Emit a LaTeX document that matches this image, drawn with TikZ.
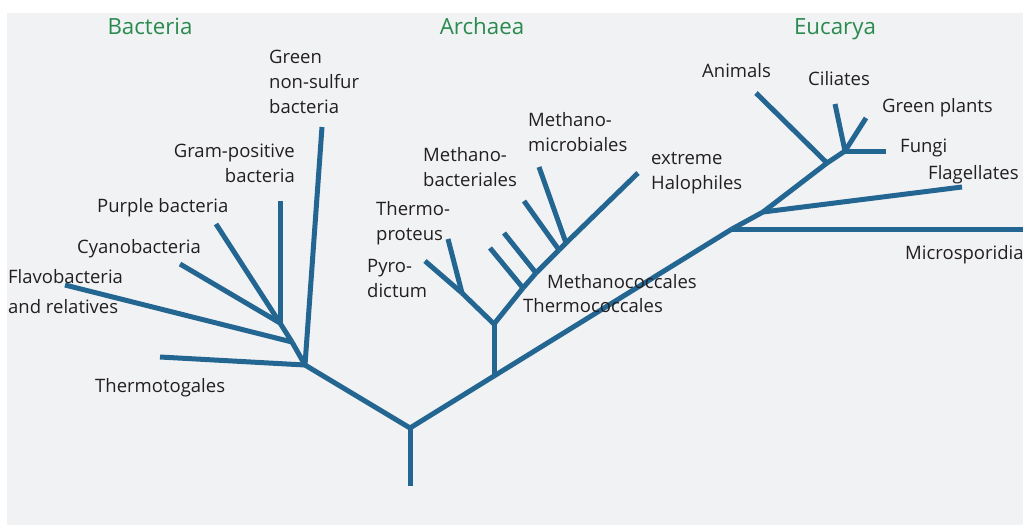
\documentclass[tikz,border=0pt]{standalone}
\usepackage{fontspec}
\setmainfont{Open Sans}
\definecolor{bgc}{RGB}{241,242,244}
\definecolor{br}{RGB}{36,102,146}
\definecolor{ttl}{RGB}{42,138,79}
\definecolor{txt}{RGB}{35,31,32}
\begin{document}
\begin{tikzpicture}[x=1pt,y=-1pt,
  br/.style={draw=br,line width=5pt},
  lbl/.style={text=txt,inner sep=0pt,font=\fontsize{18.5}{24.7}\selectfont,align=left},
  ttlb/.style={text=ttl,inner sep=0pt,font=\fontsize{22.3}{26}\selectfont}]
\useasboundingbox (0,0) rectangle (1023,525);
\fill[bgc] (7,13) rectangle (1023,525);
% junctions
\coordinate (r0) at (410,486);
\coordinate (r) at (410,428);
\coordinate (b) at (305,365);
\coordinate (b2) at (292,342);
\coordinate (b3) at (280,323);
\coordinate (a) at (494,376);
\coordinate (a2) at (494,324);
\coordinate (p) at (462,293);
\coordinate (m1) at (523,288);
\coordinate (m2) at (536,273);
\coordinate (m3) at (559,250);
\coordinate (m4) at (566,243);
\coordinate (e1) at (732,229);
\coordinate (e2) at (763,212);
\coordinate (e3) at (827,163);
\coordinate (e4) at (845,151);
% leaves
\coordinate (lThermotog) at (160,357);
\coordinate (lGreenNS) at (322,127);
\coordinate (lFlavo) at (65,285);
\coordinate (lGram) at (280,201);
\coordinate (lPurple) at (216,224);
\coordinate (lCyano) at (180,264);
\coordinate (lPyro) at (425,261);
\coordinate (lThermop) at (448,239);
\coordinate (lHalo) at (638,173);
\coordinate (lMcocc) at (490,248);
\coordinate (lTcocc) at (504,233);
\coordinate (lMbact) at (524,201);
\coordinate (lMmicro) at (539,167);
\coordinate (lMicro) at (1023,229);
\coordinate (lFlag) at (962,187);
\coordinate (lAnim) at (756,93);
\coordinate (lCil) at (835,104);
\coordinate (lGreenP) at (866,118);
\coordinate (lFungi) at (886,151);
% branches
\draw[br] (r0) -- (r);
\draw[br] (r) -- (b);
\draw[br] (r) -- (a);
\draw[br] (b) -- (lThermotog);
\draw[br] (b) -- (lGreenNS);
\draw[br] (b) -- (b2);
\draw[br] (b2) -- (b3);
\draw[br] (b2) -- (lFlavo);
\draw[br] (b3) -- (lGram);
\draw[br] (b3) -- (lPurple);
\draw[br] (b3) -- (lCyano);
\draw[br] (a) -- (a2);
\draw[br] (a2) -- (p);
\draw[br] (p) -- (lPyro);
\draw[br] (p) -- (lThermop);
\draw[br] (a2) -- (m1);
\draw[br] (m1) -- (m2);
\draw[br] (m2) -- (m3);
\draw[br] (m3) -- (m4);
\draw[br] (m4) -- (lHalo);
\draw[br] (m1) -- (lMcocc);
\draw[br] (m2) -- (lTcocc);
\draw[br] (m3) -- (lMbact);
\draw[br] (m4) -- (lMmicro);
\draw[br] (a) -- (e1);
\draw[br] (e1) -- (e2);
\draw[br] (e2) -- (e3);
\draw[br] (e3) -- (e4);
\draw[br] (e1) -- (lMicro);
\draw[br] (e2) -- (lFlag);
\draw[br] (e3) -- (lAnim);
\draw[br] (e4) -- (lCil);
\draw[br] (e4) -- (lGreenP);
\draw[br] (e4) -- (lFungi);
% titles
\node[ttlb,anchor=base] (tB) at (150,34) {Bacteria};
\node[ttlb,anchor=base] (tA) at (482,34) {Archaea};
\node[ttlb,anchor=base] (tE) at (835,34) {Eucarya};
% labels
\node[lbl,anchor=base west] (nGreenNS) at (269,113) {Green\\non-sulfur\\bacteria};
\node[lbl,anchor=base east,align=right] (nGram) at (295,182) {Gram-positive\\bacteria};
\node[lbl,anchor=base west] (nPurple) at (97,212) {Purple bacteria};
\node[lbl,anchor=base west] (nCyano) at (77,253) {Cyanobacteria};
\node[lbl,anchor=base west,font=\fontsize{18.5}{30}\selectfont] (nFlavo) at (8,313) {Flavobacteria\\and relatives};
\node[lbl,anchor=base west] (nThermotog) at (95,392) {Thermotogales};
\node[lbl,anchor=base west] (nPyro) at (367,297) {Pyro-\\dictum};
\node[lbl,anchor=base west] (nThermop) at (376,240) {Thermo-\\proteus};
\node[lbl,anchor=base west] (nMbact) at (423,186) {Methano-\\bacteriales};
\node[lbl,anchor=base west] (nMmicro) at (528,151) {Methano-\\microbiales};
\node[lbl,anchor=base west] (nHalo) at (651,189) {extreme\\Halophiles};
\node[lbl,anchor=base west] (nMcocc) at (547,288) {Methanococcales};
\node[lbl,anchor=base west] (nTcocc) at (523,312) {Thermococcales};
\node[lbl,anchor=base west] (nAnim) at (702,77) {Animals};
\node[lbl,anchor=base west] (nCil) at (808,85) {Ciliates};
\node[lbl,anchor=base west] (nGreenP) at (882,112) {Green plants};
\node[lbl,anchor=base west] (nFungi) at (900,152) {Fungi};
\node[lbl,anchor=base west] (nFlag) at (928,179) {Flagellates};
\node[lbl,anchor=base west] (nMicro) at (905,259) {Microsporidia};
\end{tikzpicture}
\end{document}
